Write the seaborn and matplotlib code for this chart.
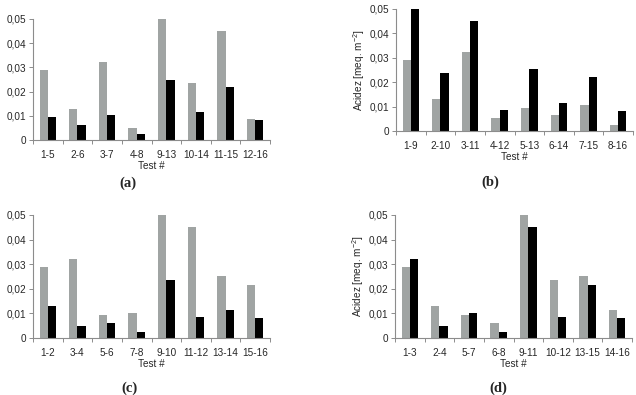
import pandas as pd
import numpy as np
import matplotlib
matplotlib.use('Agg')
import matplotlib.pyplot as plt
import seaborn as sns
from matplotlib.ticker import FuncFormatter, FixedLocator

# panel (a)
tests_a = ['1-5', '2-6', '3-7', '4-8', '9-13', '10-14', '11-15', '12-16']
grey_a = [0.0288, 0.0129, 0.0324, 0.0050, 0.0500, 0.0235, 0.0449, 0.0085]
black_a = [0.0093, 0.0063, 0.0104, 0.0025, 0.0250, 0.0115, 0.0217, 0.0084]

# panel (b)
tests_b = ['1-9', '2-10', '3-11', '4-12', '5-13', '6-14', '7-15', '8-16']
grey_b = [0.0290, 0.0132, 0.0323, 0.0052, 0.0094, 0.0064, 0.0105, 0.0026]
black_b = [0.0500, 0.0237, 0.0451, 0.0087, 0.0253, 0.0116, 0.0221, 0.0084]

# panel (c)
tests_c = ['1-2', '3-4', '5-6', '7-8', '9-10', '11-12', '13-14', '15-16']
grey_c = [0.0289, 0.0322, 0.0094, 0.0102, 0.0500, 0.0451, 0.0253, 0.0217]
black_c = [0.0132, 0.0050, 0.0063, 0.0024, 0.0236, 0.0087, 0.0114, 0.0083]

# panel (d)
tests_d = ['1-3', '2-4', '5-7', '6-8', '9-11', '10-12', '13-15', '14-16']
grey_d = [0.0288, 0.0129, 0.0092, 0.0063, 0.0500, 0.0235, 0.0253, 0.0114]
black_d = [0.0323, 0.0050, 0.0102, 0.0024, 0.0452, 0.0087, 0.0217, 0.0083]

panel_names = ['(a)', '(b)', '(c)', '(d)']
yticks = [0, 0.01, 0.02, 0.03, 0.04, 0.05]

GREY = '#9fa5a3'
AXIS = '#8c8c8c'
TEXT = '#262626'

sns.set_style('white')
plt.rcParams['font.family'] = ['Liberation Sans', 'DejaVu Sans']
plt.rcParams['mathtext.default'] = 'regular'

W, H = 636, 395
fig = plt.figure(figsize=(W / 100, H / 100), dpi=100)

# axes boxes in pixels: left, top, right, bottom
boxes = [(33, 19, 270, 140), (396, 9, 633, 131),
         (33, 215, 270, 338), (395, 215, 632, 338)]
# panel letter positions in pixels (centre)
letter_pos = [(128, 183), (490, 182), (129, 388), (498, 388)]

panels = [(tests_a, grey_a, black_a), (tests_b, grey_b, black_b),
          (tests_c, grey_c, black_c), (tests_d, grey_d, black_d)]


def fmt(v, pos):
    if abs(v) < 1e-9:
        return '0'
    return f'{v:.2f}'.replace('.', ',')


for (tests, grey, black), box, name, lp in zip(panels, boxes, panel_names, letter_pos):
    l, t, r, b = box
    ax = fig.add_axes([l / W, 1 - b / H, (r - l) / W, (b - t) / H])

    df = pd.DataFrame({
        'Test': tests * 2,
        'Serie': ['s1'] * len(tests) + ['s2'] * len(tests),
        'Acidez': grey + black,
    })
    sns.barplot(data=df, x='Test', y='Acidez', hue='Serie',
                palette=[GREY, 'black'], width=0.56, gap=0,
                linewidth=0, legend=False, ax=ax)

    ax.set_xlim(-0.5, len(tests) - 0.5)
    ax.set_ylim(0, 0.05)
    ax.set_yticks(yticks)
    ax.yaxis.set_major_formatter(FuncFormatter(fmt))

    # Excel style ticks between categories
    ax.xaxis.set_minor_locator(FixedLocator(np.arange(-0.5, len(tests), 1.0)))
    ax.tick_params(axis='x', which='major', length=0, pad=7,
                   labelsize=7.2, labelcolor=TEXT)
    ax.tick_params(axis='x', which='minor', length=3, width=0.7,
                   color=AXIS, direction='out', bottom=True)
    ax.tick_params(axis='y', which='major', length=3, width=0.7,
                   color=AXIS, direction='out', left=True, pad=2,
                   labelsize=7.2, labelcolor=TEXT)

    for side in ['top', 'right']:
        ax.spines[side].set_visible(False)
    for side in ['left', 'bottom']:
        ax.spines[side].set_color(AXIS)
        ax.spines[side].set_linewidth(0.8)

    ax.set_xlabel('Test #', fontsize=7.2, color=TEXT, labelpad=1)
    ax.set_ylabel('Acidez [meq. m$^{-2}$]', fontsize=7.2, color=TEXT)
    ax.yaxis.set_label_coords(-29 / (r - l), 0.5)

    fig.text(lp[0] / W, 1 - lp[1] / H, name, ha='center', va='center',
             family='Liberation Serif', fontweight='bold', fontsize=10.5)

fig.savefig('out.png', dpi=100)
